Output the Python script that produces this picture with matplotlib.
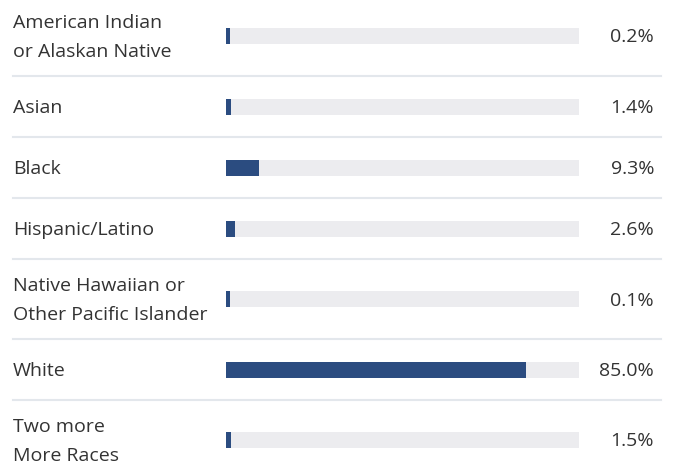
import matplotlib.pyplot as plt

labels = ["American Indian\nor Alaskan Native", "Asian", "Black", "Hispanic/Latino",
          "Native Hawaiian or\nOther Pacific Islander", "White", "Two more\nMore Races"]
values = [0.2, 1.4, 9.3, 2.6, 0.1, 85.0, 1.5]

plt.rcParams['font.family'] = ['Open Sans', 'DejaVu Sans']

W, H = 673, 470
fig = plt.figure(figsize=(W / 100, H / 100), dpi=100)
ax = fig.add_axes([0, 0, 1, 1])
ax.set_xlim(0, W)
ax.set_ylim(H, 0)
ax.axis("off")

# bar axes: track spans x 226..579 px
bx = fig.add_axes([226 / W, 0, (579 - 226) / W, 1], sharey=ax)
bx.set_xlim(0, 100)
bx.axis("off")

# row heights depend on number of label lines
centers, bounds = [], []
y = -4
for lab in labels:
    h = 80 if "\n" in lab else 61
    centers.append(y + h / 2)
    y += h
    bounds.append(y)

text_col = "#333333"
bx.barh(centers, [100] * len(values), height=16, color="#ececef", zorder=1)
bx.barh(centers, [max(v, 1.1) for v in values], height=16, color="#2b4c80", zorder=2)

for c, lab, v in zip(centers, labels, values):
    ax.text(13, c + 1.5, lab, ha="left", va="center", fontsize=14, color=text_col, linespacing=1.78)
    ax.text(654, c + 1.5, f"{v:.1f}%", ha="right", va="center", fontsize=14, color=text_col)

for b in bounds[:-1]:
    ax.plot([13, 661], [b, b], color="#e3e7ec", lw=1.5, zorder=0)

fig.savefig("out.png", dpi=100)
